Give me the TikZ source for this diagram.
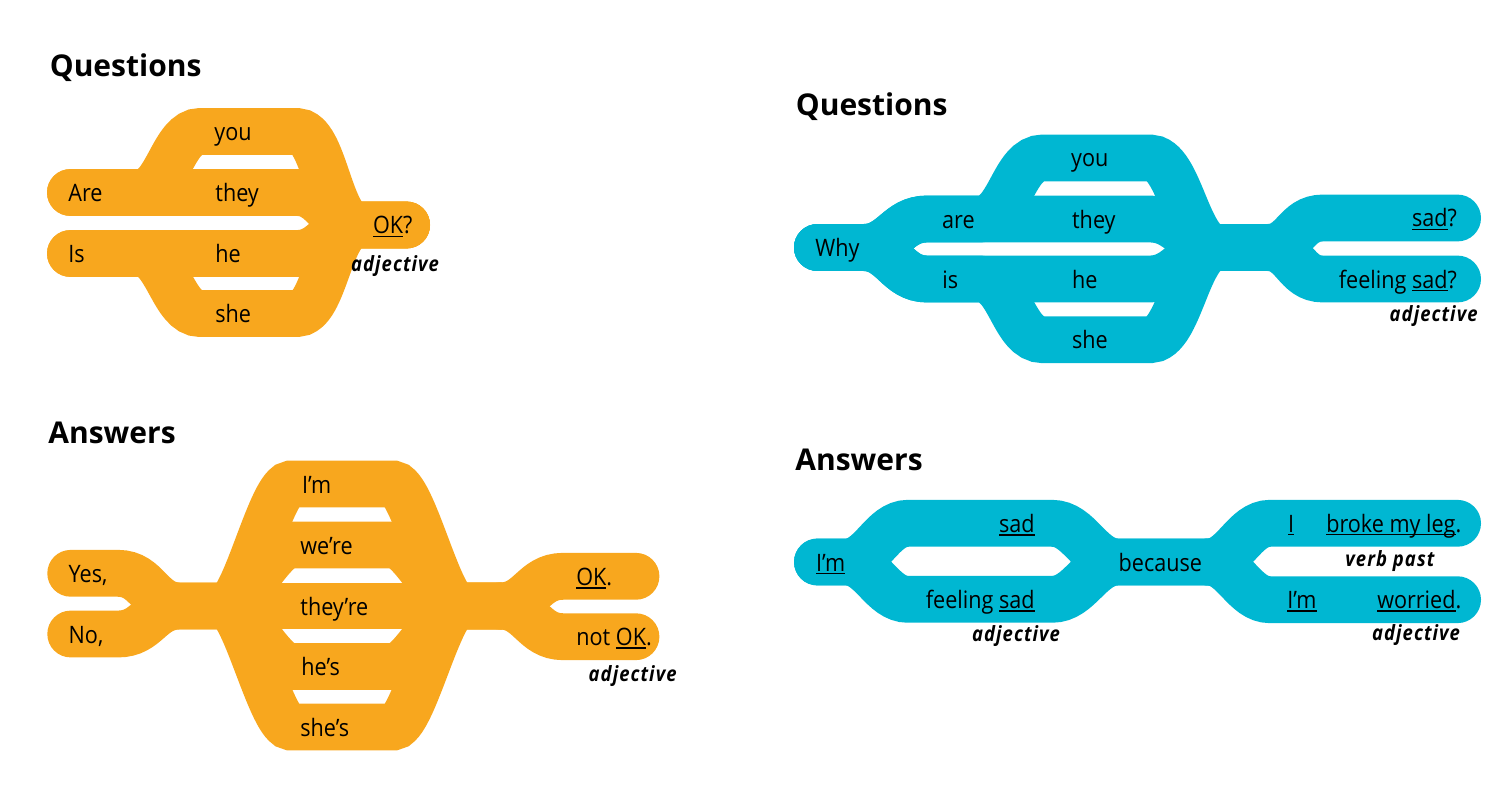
\documentclass[tikz,border=0pt]{standalone}
\usepackage{fontspec}
\setmainfont{Open Sans}
\newfontfamily\bandfont[FakeStretch=0.9]{Open Sans}
\newfontfamily\tagfont[FakeStretch=0.88,LetterSpace=5]{Open Sans}
\usepackage{xcolor}
\definecolor{Orange}{RGB}{248,167,30}
\definecolor{Aqua}{RGB}{0,183,210}
\newcommand\wordline[1]{\setbox0\hbox{#1}\rlap{\rule[-1.6pt]{\wd0}{0.75pt}}\box0}

\begin{document}
\begin{tikzpicture}[
    x=0.5pt,
    y=-0.5pt,
    band/.style={line width=23.4pt, line cap=round},
    word/.style={font=\bandfont\fontsize{12}{12}\selectfont, inner sep=0pt, anchor=base west},
    wordtag/.style={font=\tagfont\bfseries\itshape\fontsize{10.5}{10.5}\selectfont, inner sep=0pt, anchor=base west},
    heading/.style={font=\bfseries\fontsize{15}{15}\selectfont, inner sep=0pt, anchor=base west}
]
  \useasboundingbox (0,0) rectangle (1509,786);

  \node[heading] (qhead) at (49.5,77) {Questions};
  \node[heading] (ahead) at (48,443) {Answers};
  \node[heading] (wqhead) at (795.5,116) {Questions};
  \node[heading] (wahead) at (795,470) {Answers};

  % are / is ... OK?
  \foreach \a/\b in {192.5/131.5,192.5/192.5,253.5/253.5,253.5/313.5} {
    \draw[band,Orange] (70.4,\a) -- (140,\a) .. controls +(27,0) and +(-27,0) .. (200,\b) -- (297,\b) .. controls +(28,0) and +(-28,0) .. (357,225) -- (406.6,225);
  }
  \node[word] (are) at (68,201.5) {Are};
  \node[word] (is) at (68,262.5) {Is};
  \node[word] (you) at (214,140.5) {you};
  \node[word] (they) at (215,201.5) {they};
  \node[word] (he) at (215,262.5) {he};
  \node[word] (she) at (215,322.5) {she};
  \node[word] (ok) at (372.7,234) {\wordline{OK}?};
  \node[wordtag] (okadj) at (350.7,271.5) {adjective};

  % yes / no ... OK.
  \foreach \a in {573.3,634} {
    \draw[band,Orange] (70.7,\a) -- (118,\a) .. controls +(30,0) and +(-30,0) .. (180,606) -- (225,606);
  }
  \foreach \b in {484,545,606,666.5,727} {
    \draw[band,Orange] (225,606) .. controls +(20,0) and +(-20,0) .. (291,\b) -- (393,\b) .. controls +(20,0) and +(-20,0) .. (459,606) -- (500,606);
  }
  \foreach \c in {576.3,636.7} {
    \draw[band,Orange] (500,606) .. controls +(30,0) and +(-30,0) .. (563,\c) -- (636,\c);
  }
  \node[word] (yes) at (68.3,582.3) {Yes,};
  \node[word] (no) at (68.3,643) {No,};
  \node[word] (im) at (301.7,493) {I’m};
  \node[word] (were) at (300,554) {we’re};
  \node[word] (theyre) at (300,615) {they’re};
  \node[word] (hes) at (301,675.5) {he’s};
  \node[word] (shes) at (300,736) {she’s};
  \node[word] (okdot) at (576,585.3) {\wordline{OK}.};
  \node[word] (notok) at (576,645.7) {not \wordline{OK}.};
  \node[wordtag] (notokadj) at (588.3,681.7) {adjective};

  % why ... sad?
  \foreach \a/\b in {219/158,219/219,279/279,279/339.7} {
    \draw[band,Aqua] (817.4,247.5) -- (863,247.5) .. controls +(30,0) and +(-30,0) .. (927,\a) -- (980,\a) .. controls +(30,0) and +(-30,0) .. (1043,\b) -- (1150,\b) .. controls +(30,0) and +(-30,0) .. (1217,247.5) -- (1267,247.5);
  }
  \foreach \c in {218,279} {
    \draw[band,Aqua] (1267,247.5) .. controls +(28,0) and +(-28,0) .. (1323,\c) -- (1457.6,\c);
  }
  \node[word] (why) at (815,256.5) {Why};
  \node[word] (ware) at (941.7,228) {are};
  \node[word] (wis) at (942,288) {is};
  \node[word] (wyou) at (1070.7,167) {you};
  \node[word] (wthey) at (1071.7,228) {they};
  \node[word] (whe) at (1071.7,288) {he};
  \node[word] (wshe) at (1071.7,348.7) {she};
  \node[word,anchor=base east] (sad) at (1457.3,227) {\wordline{sad}?};
  \node[word,anchor=base east] (feelsad) at (1457.3,288) {feeling \wordline{sad}?};
  \node[wordtag,anchor=base east] (sadadj) at (1478,321.7) {adjective};

  % I'm sad because ...
  \foreach \a in {523.3,599.3} {
    \draw[band,Aqua] (817.4,562) -- (846,562) .. controls +(26,0) and +(-26,0) .. (908,\a) -- (1052,\a) .. controls +(28,0) and +(-28,0) .. (1118,562) -- (1208,562);
  }
  \foreach \c in {523.3,599.7} {
    \draw[band,Aqua] (1208,562) .. controls +(26,0) and +(-26,0) .. (1270,\c) -- (1457.6,\c);
  }
  \node[word] (aim) at (815.7,571) {\wordline{I’m}};
  \node[word,anchor=base east] (asad) at (1035,532.3) {\wordline{sad}};
  \node[word,anchor=base east] (afeel) at (1035,608.3) {feeling \wordline{sad}};
  \node[wordtag] (afeeladj) at (971.7,641.7) {adjective};
  \node[word] (because) at (1118.3,571) {because};
  \node[word] (bi) at (1287.7,532) {\wordline{I}};
  \node[word,anchor=base east] (broke) at (1461.7,532) {\wordline{broke my leg}.};
  \node[wordtag] (brokeadj) at (1345,566.7) {verb past};
  \node[word] (bim) at (1287,608.7) {\wordline{I’m}};
  \node[word,anchor=base east] (worried) at (1461.7,608.7) {\wordline{worried}.};
  \node[wordtag] (worriedadj) at (1371.7,640) {adjective};
\end{tikzpicture}
\end{document}
